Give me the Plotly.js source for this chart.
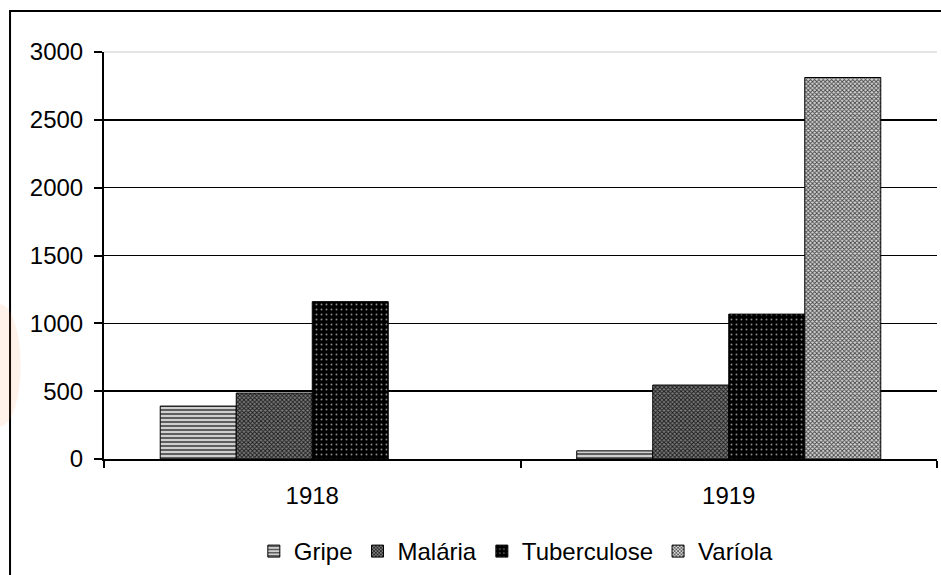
<!DOCTYPE html>
<html>
<head>
<meta charset="utf-8">
<script src="https://cdn.plot.ly/plotly-3.0.1.min.js"></script>
<style>html,body{margin:0;padding:0;background:#fff;}#chart{width:941px;height:575px;}</style>
</head>
<body>
<div id="chart"></div>
<script>
var categories = ['1918', '1919'];
var seriesNames = ['Gripe', 'Malária', 'Tuberculose', 'Varíola'];
var gripe = [390, 60];
var malaria = [486, 545];
var tuberculose = [1160, 1068];
var variola = [null, 2812];
var yTicks = [0, 500, 1000, 1500, 2000, 2500, 3000];

var values = [gripe, malaria, tuberculose, variola];
var patterns = [
  {shape: '-', bgcolor: '#cfcfcf', fgcolor: '#5e5e5e', size: 4, solidity: 0.5},
  {shape: 'x', bgcolor: '#7c7c7c', fgcolor: '#1a1a1a', size: 3, solidity: 0.5},
  {shape: '.', bgcolor: '#000000', fgcolor: '#8a8a8a', size: 5, solidity: 0.12},
  {shape: 'x', bgcolor: '#d8d8d8', fgcolor: '#444444', size: 3, solidity: 0.5}
];

var traces = seriesNames.map(function (name, i) {
  return {
    type: 'bar',
    name: name,
    x: categories,
    y: values[i],
    marker: {
      color: patterns[i].bgcolor,
      pattern: patterns[i],
      line: {color: '#000', width: 1}
    },
    hoverinfo: 'x+y+name'
  };
});

var font = {family: '"Liberation Sans", Arial, sans-serif', size: 24, color: '#000'};

var layout = {
  width: 941,
  height: 575,
  margin: {l: 104, r: 4, t: 52, b: 116, autoexpand: false},
  paper_bgcolor: '#fff',
  plot_bgcolor: '#fff',
  font: font,
  barmode: 'group',
  bargap: 0.27,
  bargroupgap: 0,
  showlegend: true,
  legend: {
    orientation: 'h',
    x: 0.495,
    xanchor: 'center',
    y: -0.172,
    yanchor: 'top',
    font: {family: font.family, size: 24, color: '#000'},
    bgcolor: 'rgba(0,0,0,0)',
    itemwidth: 30,
    tracegroupgap: 0
  },
  xaxis: {
    type: 'category',
    showline: true,
    linecolor: '#000',
    linewidth: 2,
    ticks: 'outside',
    tickson: 'boundaries',
    ticklen: 7,
    tickwidth: 2,
    tickcolor: '#000',
    tickfont: font,
    showgrid: false,
    zeroline: false,
    ticklabelstandoff: 14,
    automargin: false
  },
  yaxis: {
    range: [0, 3000],
    tickvals: yTicks,
    ticktext: yTicks.map(String),
    showline: true,
    linecolor: '#000',
    linewidth: 2,
    ticks: 'outside',
    ticklen: 8,
    tickwidth: 2,
    tickcolor: '#000',
    tickfont: font,
    showgrid: true,
    gridcolor: '#000',
    gridwidth: 1.5,
    zeroline: false,
    ticklabelstandoff: 6,
    automargin: false
  },
  shapes: [
    {type: 'line', xref: 'paper', yref: 'paper', x0: 0, x1: 1, y0: 1, y1: 1,
     line: {color: '#dcdcdc', width: 1.5}, layer: 'above'},
    {type: 'rect', xref: 'paper', yref: 'paper', x0: -0.1128, x1: 1.0156, y0: -0.3096, y1: 1.1007,
     line: {color: '#000', width: 2}, fillcolor: 'rgba(0,0,0,0)', layer: 'below'},
    {type: 'circle', xref: 'paper', yref: 'paper', x0: -0.15, x1: -0.1, y0: 0.08, y1: 0.38,
     line: {width: 0}, fillcolor: 'rgba(245,140,70,0.11)', layer: 'below'}
  ]
};

Plotly.newPlot('chart', traces, layout, {displayModeBar: false, staticPlot: true});
</script>
</body>
</html>
